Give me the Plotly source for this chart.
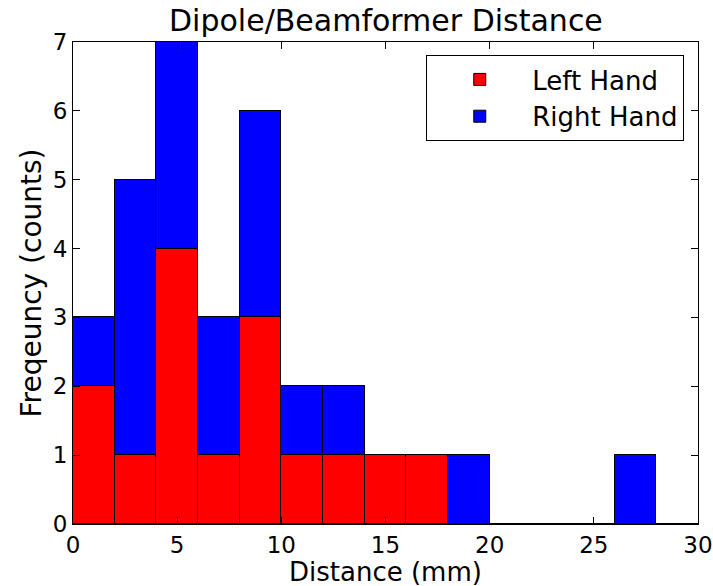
import plotly.graph_objects as go

bin_centers = [1, 3, 5, 7, 9, 11, 13, 15, 17, 19, 21, 23, 25, 27, 29]
left_hand = [2, 1, 4, 1, 3, 1, 1, 1, 1, 0, 0, 0, 0, 0, 0]
right_hand = [1, 4, 3, 2, 3, 1, 1, 0, 0, 1, 0, 0, 0, 1, 0]
bin_width = 2

title_text = "Dipole/Beamformer Distance"
x_title = "Distance (mm)"
y_title = "Freqeuncy (counts)"

FONT = "DejaVu Sans"

fig = go.Figure()
fig.add_trace(go.Bar(x=bin_centers, y=left_hand, width=bin_width, name="Left Hand",
                     marker=dict(color="#ff0000", line=dict(color="black", width=1))))
fig.add_trace(go.Bar(x=bin_centers, y=right_hand, width=bin_width, name="Right Hand",
                     marker=dict(color="#0000ff", line=dict(color="black", width=1))))

axis_common = dict(showline=True, linecolor="black", linewidth=1, mirror="ticks",
                   ticks="inside", ticklen=7, tickcolor="black", showgrid=False,
                   zeroline=False, automargin=False, ticklabeloverflow="allow",
                   tickfont=dict(family=FONT, size=23, color="black"))

fig.update_layout(
    barmode="stack",
    width=713, height=586,
    margin=dict(l=73, r=15, t=42, b=62),
    paper_bgcolor="white", plot_bgcolor="white",
    xaxis=dict(range=[0, 30], tickvals=[0, 5, 10, 15, 20, 25, 30], ticklabelstandoff=0,
               **axis_common),
    yaxis=dict(range=[0, 7], tickvals=list(range(8)), ticklabelstandoff=0,
               title=dict(text=y_title, font=dict(family=FONT, size=28, color="black"), standoff=2),
               **axis_common),
    legend=dict(x=0.978, y=0.973, xanchor="right", yanchor="top", bgcolor="white",
                bordercolor="black", borderwidth=1, traceorder="normal",
                font=dict(family=FONT, size=26, color="black"), itemwidth=95,
                tracegroupgap=8),
    showlegend=True,
    bargap=0,
    annotations=[
        dict(text=title_text, xref="paper", yref="paper", x=0.5, y=1, xanchor="center",
             yanchor="bottom", yshift=2, showarrow=False,
             font=dict(family=FONT, size=30, color="black")),
        dict(text=x_title, xref="paper", yref="paper", x=0.5, y=0, xanchor="center",
             yanchor="top", yshift=-31, showarrow=False,
             font=dict(family=FONT, size=26, color="black")),
    ],
)

fig.write_html("out.html")
